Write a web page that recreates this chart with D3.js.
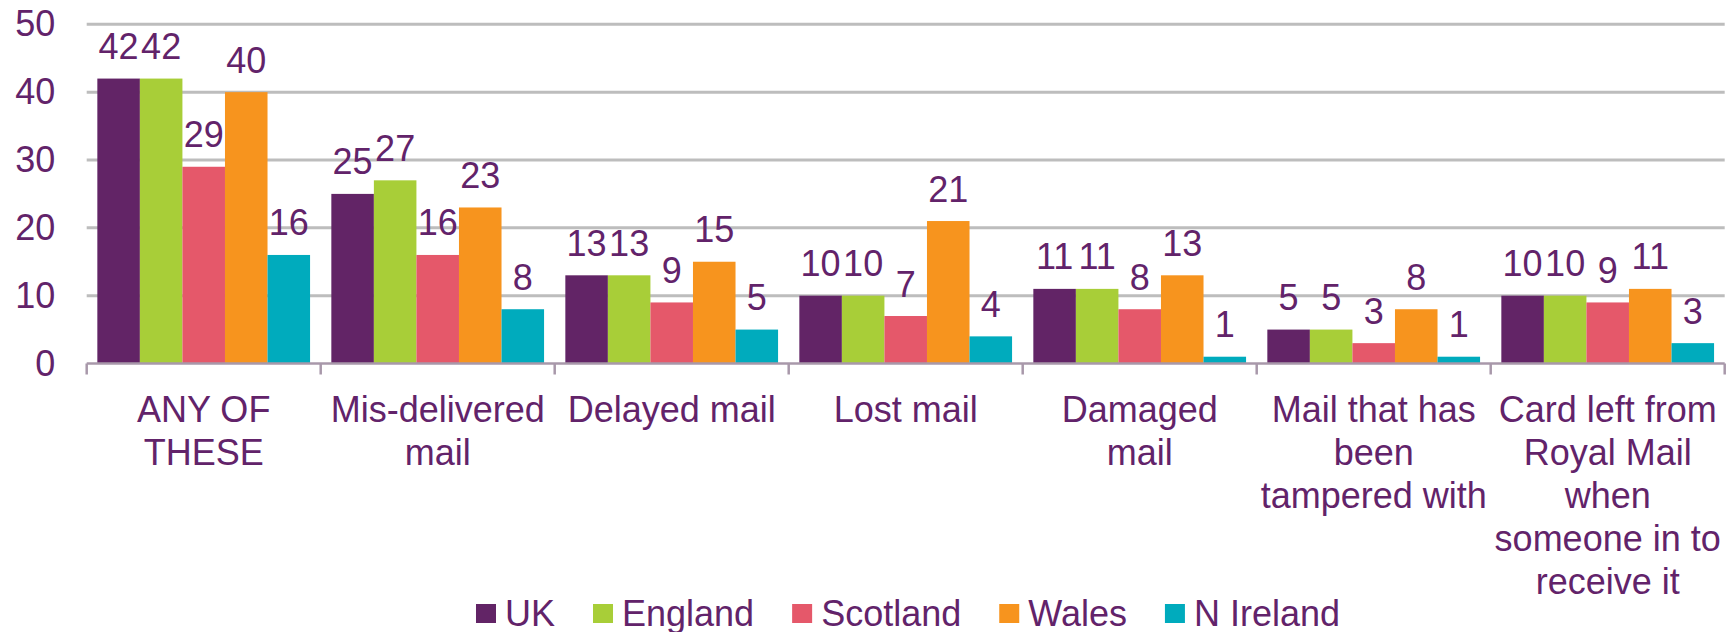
<!DOCTYPE html>
<html>
<head>
<meta charset="utf-8">
<script src="https://cdn.jsdelivr.net/npm/d3@7"></script>
<style>
  html, body { margin: 0; padding: 0; background: #fff; }
  svg { display: block; font-family: "Liberation Sans", Arial, sans-serif; }
</style>
</head>
<body>
<svg id="chart" width="1733" height="632"></svg>
<script>
// ---- Data ----
const categories = [
  "ANY OF THESE",
  "Mis-delivered mail",
  "Delayed mail",
  "Lost mail",
  "Damaged mail",
  "Mail that has been tampered with",
  "Card left from Royal Mail when someone in to receive it"
];
const categoryLines = [
  ["ANY OF", "THESE"],
  ["Mis-delivered", "mail"],
  ["Delayed mail"],
  ["Lost mail"],
  ["Damaged", "mail"],
  ["Mail that has", "been", "tampered with"],
  ["Card left from", "Royal Mail", "when", "someone in to", "receive it"]
];
const seriesNames = ["UK", "England", "Scotland", "Wales", "N Ireland"];
const ukValues       = [42, 25, 13, 10, 11, 5, 10];
const englandValues  = [42, 27, 13, 10, 11, 5, 10];
const scotlandValues = [29, 16, 9, 7, 8, 3, 9];
const walesValues    = [40, 23, 15, 21, 13, 8, 11];
const nIrelandValues = [16, 8, 5, 4, 1, 1, 3];
const yTicks = [0, 10, 20, 30, 40, 50];

(function () {
const seriesValues = [ukValues, englandValues, scotlandValues, walesValues, nIrelandValues];
const colors = ["#622466", "#A8CE38", "#E5586A", "#F7941E", "#00ABBD"];
const textColor = "#62236A";

// ---- Layout ----
const svg = d3.select("#chart");
const plotLeft = 86.7, plotRight = 1724.7, plotTop = 24.3, plotBottom = 363.5;

const x0 = d3.scaleBand().domain(categories).range([plotLeft, plotRight]).paddingInner(0).paddingOuter(0);
const x1 = d3.scaleBand().domain(seriesNames).range([0, x0.bandwidth()]).paddingInner(0).paddingOuter(0.25);
const y = d3.scaleLinear().domain([0, 50]).range([plotBottom, plotTop]);
const color = d3.scaleOrdinal().domain(seriesNames).range(colors);

// gridlines
svg.append("g").selectAll("line").data(yTicks.filter(d => d > 0)).join("line")
  .attr("x1", plotLeft).attr("x2", plotRight)
  .attr("y1", d => y(d)).attr("y2", d => y(d))
  .attr("stroke", "#BDBDBD").attr("stroke-width", 3);

// y axis labels
const yAxis = d3.axisLeft(y).tickValues(yTicks).tickSize(0).tickPadding(31.5).tickFormat(d3.format("d"));
const yg = svg.append("g").attr("transform", `translate(${plotLeft},0)`).call(yAxis);
yg.select(".domain").remove();
yg.selectAll("text").attr("fill", textColor).style("font-size", "36px")
  .style("font-family", "'Liberation Sans', Arial, sans-serif");

// bars
const rows = categories.map((c, i) => ({ cat: c, vals: seriesNames.map((s, j) => ({ s, v: seriesValues[j][i] })) }));
const groups = svg.append("g").selectAll("g").data(rows).join("g")
  .attr("transform", d => `translate(${x0(d.cat)},0)`);
groups.selectAll("rect").data(d => d.vals).join("rect")
  .attr("x", d => x1(d.s)).attr("width", x1.bandwidth())
  .attr("y", d => y(d.v)).attr("height", d => y(0) - y(d.v))
  .attr("fill", d => color(d.s));
groups.selectAll("text.val").data(d => d.vals).join("text").attr("class", "val")
  .attr("x", d => x1(d.s) + x1.bandwidth() / 2)
  .attr("y", d => y(d.v) - 19.5)
  .attr("text-anchor", "middle")
  .attr("fill", textColor).style("font-size", "36px")
  .text(d => d.v);

// x axis line + ticks
const xAxis = d3.axisBottom(x0).tickSize(0).tickFormat("");
const xg = svg.append("g").attr("transform", `translate(0,${plotBottom})`).call(xAxis);
xg.select(".domain").remove();
xg.selectAll(".tick").remove();
const axisColor = "#A898AA";
xg.append("line").attr("x1", plotLeft).attr("x2", plotRight).attr("y1", 0).attr("y2", 0)
  .attr("stroke", axisColor).attr("stroke-width", 2.5);
const bounds = categories.map(c => x0(c)).concat([x0(categories[categories.length - 1]) + x0.bandwidth()]);
xg.selectAll("line.tk").data(bounds).join("line").attr("class", "tk")
  .attr("x1", d => d).attr("x2", d => d).attr("y1", 0).attr("y2", 11)
  .attr("stroke", axisColor).attr("stroke-width", 2.5);

// category labels
const labG = svg.append("g");
categories.forEach((c, i) => {
  const cxm = x0(c) + x0.bandwidth() / 2;
  const t = labG.append("text")
    .attr("x", cxm).attr("y", 421.7)
    .attr("text-anchor", "middle")
    .attr("fill", textColor).style("font-size", "36px");
  categoryLines[i].forEach((ln, k) => {
    t.append("tspan").attr("x", cxm).attr("y", 421.7 + k * 43).text(ln);
  });
});

// legend
const legG = svg.append("g");
const legGap = 38;
let cx = 0;
seriesNames.forEach((s) => {
  const g = legG.append("g");
  g.append("rect").attr("x", cx).attr("y", 604).attr("width", 20).attr("height", 19).attr("fill", color(s));
  const t = g.append("text").attr("x", cx + 29).attr("y", 625.5).attr("fill", textColor)
    .style("font-size", "36px").text(s);
  const w = t.node().getComputedTextLength();
  cx += 29 + w + legGap;
});
const totalW = cx - legGap;
legG.attr("transform", `translate(${908 - totalW / 2},0)`);
})();
</script>
</body>
</html>
